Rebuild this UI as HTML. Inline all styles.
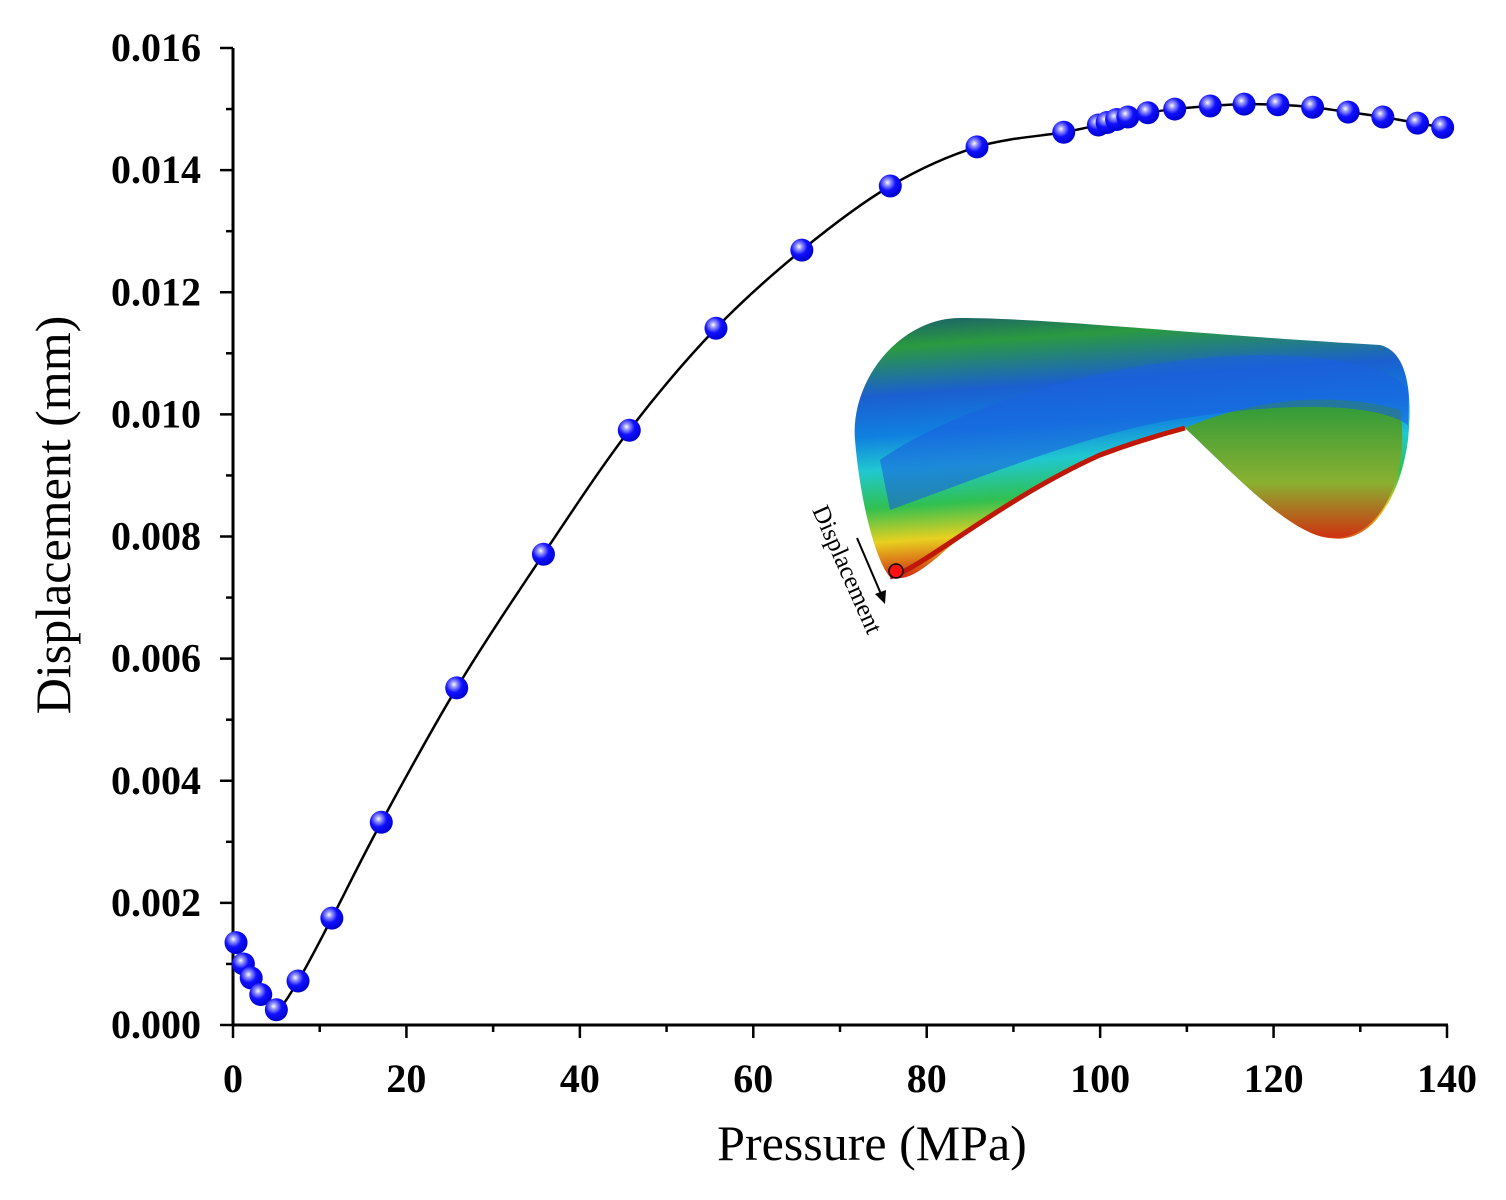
<!DOCTYPE html>
<html><head><meta charset="utf-8"><style>
html,body{margin:0;padding:0;background:#fff;}
svg{display:block;}
</style></head><body>
<svg id="chart" width="1506" height="1200" viewBox="0 0 1506 1200" xmlns="http://www.w3.org/2000/svg">
<defs>
<radialGradient id="ball" cx="0.38" cy="0.35" r="0.7">
<stop offset="0" stop-color="#ffffff"/><stop offset="0.18" stop-color="#9a9aff"/><stop offset="0.5" stop-color="#1010ff"/><stop offset="1" stop-color="#0000c8"/>
</radialGradient>
<linearGradient id="fem" x1="0" y1="0" x2="0.15" y2="1">
<stop offset="0" stop-color="#1a5a70"/><stop offset="0.12" stop-color="#2a9a40"/><stop offset="0.3" stop-color="#1b5fd0"/><stop offset="0.45" stop-color="#1080e0"/><stop offset="0.58" stop-color="#20c8d0"/><stop offset="0.72" stop-color="#30c050"/><stop offset="0.85" stop-color="#e8d020"/><stop offset="1" stop-color="#d02010"/>
</linearGradient>
<linearGradient id="lobe" x1="0" y1="0" x2="0" y2="1">
<stop offset="0" stop-color="#2a9a3a"/><stop offset="0.6" stop-color="#8ab030"/><stop offset="1" stop-color="#d03010"/>
</linearGradient>
</defs>
<g id="inset">
<path d="M960,318 C1050,318 1200,335 1380,345 C1410,352 1412,400 1408,440 C1400,500 1370,545 1330,538 C1290,535 1230,470 1185,428 C1120,440 1000,500 940,555 C920,572 905,582 890,577 C875,560 860,500 855,440 C850,380 900,318 960,318 Z" fill="url(#fem)"/>
<path d="M1185,428 C1250,400 1330,390 1400,410 C1410,470 1385,540 1330,538 C1290,535 1230,470 1185,428 Z" fill="url(#lobe)"/>
<path d="M880,460 C950,410 1100,360 1250,355 C1330,355 1390,365 1408,390 L1408,425 C1380,405 1300,400 1185,418 C1100,430 1000,470 890,510 Z" fill="#1a60e0" opacity="0.6"/>
<path d="M890,577 C920,570 1000,500 1100,455 C1140,440 1170,432 1185,428" stroke="#c01808" stroke-width="5" fill="none"/>
<circle cx="896" cy="571" r="7" fill="#ff1010" stroke="#000" stroke-width="1.5"/>
<line x1="857" y1="538" x2="881" y2="594" stroke="#000" stroke-width="2"/>
<polygon points="885,604 875,594 886,590" fill="#000"/>
<text transform="translate(812,510) rotate(66)" font-family="Liberation Serif, serif" font-size="25" fill="#000">Displacement</text>
</g>
<g id="axes"></g>
<g id="series"></g>
<text x="872" y="1160" text-anchor="middle" font-family="Liberation Serif, serif" font-size="50">Pressure (MPa)</text>
<text transform="translate(70,515) rotate(-90)" text-anchor="middle" font-family="Liberation Serif, serif" font-size="50">Displacement (mm)</text>
</svg>
<script>
const pressure=[0.35,1.2,2.1,3.2,5.0,7.5,11.4,17.1,25.8,35.8,45.7,55.7,65.6,75.8,85.8,95.8,99.8,100.8,101.9,103.2,105.5,108.6,112.7,116.6,120.5,124.5,128.6,132.6,136.6,139.5];
const displacement=[0.00135,0.00100,0.00077,0.00050,0.00025,0.00072,0.00175,0.00332,0.00552,0.00771,0.00974,0.01141,0.01269,0.01374,0.01438,0.01462,0.01474,0.01478,0.01483,0.01487,0.01494,0.01500,0.01505,0.01508,0.01507,0.01503,0.01495,0.01487,0.01477,0.01470];
const xTicks=[0,20,40,60,80,100,120,140];
const yTicks=[0.000,0.002,0.004,0.006,0.008,0.010,0.012,0.014,0.016];
const X0=233,X1=1447,Y0=1025,Y1=48;
const xs=v=>X0+(v-0)/(140-0)*(X1-X0);
const ys=v=>Y0-(v-0)/(0.016-0)*(Y0-Y1);
const NS='http://www.w3.org/2000/svg';
const axes=document.getElementById('axes'),series=document.getElementById('series');
function mk(tag,attrs,parent){const e=document.createElementNS(NS,tag);for(const k in attrs)e.setAttribute(k,attrs[k]);parent.appendChild(e);return e;}
let e=mk('line',{x1:X0,y1:Y0,x2:X1+1,y2:Y0,stroke:'#000','stroke-width':3},axes);


e=mk('line',{x1:X0,y1:Y0+1,x2:X0,y2:Y1,stroke:'#000','stroke-width':3},axes);


for(let v=0;v<=140;v+=10){const major=v%20===0;
 e=mk('line',{x1:xs(v),y1:Y0,x2:xs(v),y2:Y0+(major?13:7),stroke:'#000','stroke-width':2.5},axes);
 
 }
xTicks.forEach(v=>{e=mk('text',{x:xs(v),y:1092,'text-anchor':'middle','font-family':'Liberation Serif, serif','font-size':40,'font-weight':'bold'},axes);e.textContent=v;
 
 });
for(let i=0;i<=16;i++){const v=i*0.001,major=i%2===0;
 e=mk('line',{x1:X0,y1:ys(v),x2:X0-(major?13:7),y2:ys(v),stroke:'#000','stroke-width':2.5},axes);
 
 }
yTicks.forEach(v=>{e=mk('text',{x:201,y:ys(v)+13,'text-anchor':'end','font-family':'Liberation Serif, serif','font-size':40,'font-weight':'bold'},axes);e.textContent=v.toFixed(3);
 
 });
const P=pressure.map((p,i)=>[xs(p),ys(displacement[i])]);
let d='M'+P[0][0]+','+P[0][1];
for(let i=0;i<P.length-1;i++){const p0=P[Math.max(0,i-1)],p1=P[i],p2=P[i+1],p3=P[Math.min(P.length-1,i+2)];
 d+=' C'+(p1[0]+(p2[0]-p0[0])/6)+','+(p1[1]+(p2[1]-p0[1])/6)+' '+(p2[0]-(p3[0]-p1[0])/6)+','+(p2[1]-(p3[1]-p1[1])/6)+' '+p2[0]+','+p2[1];}
e=mk('path',{d:d,fill:'none',stroke:'#000','stroke-width':2.5},series);


P.forEach(p=>{e=mk('circle',{cx:p[0],cy:p[1],r:11.5,fill:'url(#ball)'},series);
 
 });
</script>
</body></html>
